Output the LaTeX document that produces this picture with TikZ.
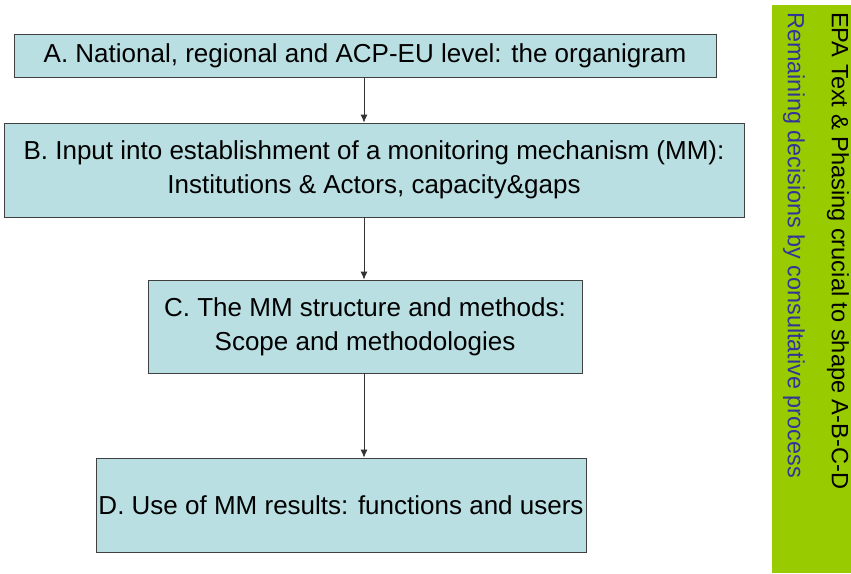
\documentclass[tikz,border=0pt]{standalone}
\usepackage{fontspec}
\setmainfont{Liberation Sans}
\usetikzlibrary{arrows.meta}
\definecolor{boxfill}{HTML}{B9DFE2}
\definecolor{boxline}{HTML}{404040}
\definecolor{barg}{HTML}{99CC00}
\definecolor{bluetxt}{HTML}{333399}
\begin{document}
\begin{tikzpicture}[x=1pt,y=-1pt,
  stagebox/.style={draw=boxline,line width=0.8pt,fill=boxfill,inner sep=0pt,align=center,font=\fontsize{26}{34}\selectfont},
  link/.style={draw=black!80,line width=0.8pt,-{Latex[length=8pt,width=7pt]}}]
\useasboundingbox (0,0) rectangle (851,573);
\fill[white] (0,0) rectangle (851,573);
\node[stagebox,minimum width=702pt,minimum height=43pt] (A) at (365,56) {A. National, regional and ACP-EU level: the organigram};
\node[stagebox,minimum width=740pt,minimum height=94pt] (B) at (374,170) {B. Input into establishment of a monitoring mechanism (MM):\\Institutions \& Actors, capacity\&gaps};
\node[stagebox,minimum width=434pt,minimum height=93pt] (C) at (365,326.5) {C. The MM structure and methods:\\Scope and methodologies};
\node[stagebox,minimum width=490pt,minimum height=94pt] (D) at (341,505) {D. Use of MM results: functions and users};
\coordinate (a1) at (364,77.5);
\draw[link] (A.south -| a1) -- (B.north -| a1);
\draw[link] (B.south -| a1) -- (C.north -| a1);
\draw[link] (C.south -| a1) -- (D.north -| a1);
\fill[barg] (772,5) rectangle (851,573);
\node[rotate=-90,anchor=west,inner sep=0pt,font=\fontsize{23.6}{28}\selectfont] (t1) at (838,12) {EPA Text \& Phasing crucial to shape A-B-C-D};
\node[rotate=-90,anchor=west,inner sep=0pt,text=bluetxt,font=\fontsize{23.4}{28}\selectfont] (t2) at (794,12) {Remaining decisions by consultative process};
\end{tikzpicture}
\end{document}
